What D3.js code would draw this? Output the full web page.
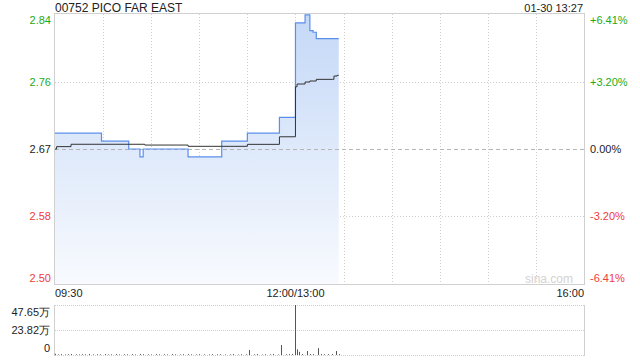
<!DOCTYPE html>
<html><head><meta charset="utf-8">
<script src="https://cdn.jsdelivr.net/npm/d3@7"></script>
<style>body{margin:0;background:#fff;}svg{display:block;font-family:Arial,"Liberation Sans",sans-serif;}</style>
</head><body>
<svg id="c" width="640" height="360"></svg>
<script>
// ---- data ----
const title = "00752 PICO FAR EAST";
const stamp = "01-30 13:27";
const prevClose = 2.67;
const pctTicks = [6.41, 3.20, 0, -3.20, -6.41];
const priceTickLabels = ["2.84", "2.76", "2.67", "2.58", "2.50"];
const pctTickLabels = ["+6.41%", "+3.20%", "0.00%", "-3.20%", "-6.41%"];
const timeLabels = ["09:30", "12:00/13:00", "16:00"];
const timeLabelMinutes = [0, 150, 330];
// trading minutes since 09:30 (lunch removed) where the price changes
const priceMinutes = [0, 29, 46, 53, 55, 83, 104, 120, 140, 150, 156, 159, 161, 163, 177];
const priceValues  = [2.69, 2.68, 2.67, 2.66, 2.67, 2.66, 2.68, 2.69, 2.71, 2.83, 2.84, 2.82, 2.818, 2.81, 2.81];
const avgMinutes = [0, 1, 10, 56, 83, 120, 140, 150, 151, 156, 159, 163, 173, 174, 176, 177];
const avgValues  = [2.670, 2.673, 2.676, 2.675, 2.6734, 2.6759, 2.6855, 2.7489, 2.7524, 2.7549, 2.7562, 2.7583, 2.7583, 2.7625, 2.7634, 2.7634];
// volume (万 shares) by minute
const volMinutes = [0,2,4,6,8,10,13,15,17,19,21,24,26,28,31,33,35,38,40,43,45,48,50,53,55,58,60,63,65,68,70,73,75,78,80,83,85,88,90,93,96,98,101,103,106,109,111,114,116,119,121,124,126,129,131,134,136,139,141,144,146,148,150,151,152,154,157,159,161,164,166,168,170,173,175,177];
const volValues  = [1.2,0.6,0.8,0.5,0.7,0.9,0.6,0.5,0.8,0.6,1.0,0.5,0.7,0.6,0.8,0.5,0.6,0.9,0.5,0.7,0.6,0.8,0.5,1.0,0.7,0.6,0.5,0.8,0.6,0.7,0.5,0.9,0.6,0.5,0.7,0.8,0.6,0.5,0.7,0.6,0.5,0.8,0.6,0.7,0.5,0.6,0.8,0.5,0.7,0.6,4.8,0.6,0.8,0.5,0.7,0.6,0.9,0.5,9.5,0.7,0.8,1.0,47.65,5.4,3.0,0.9,3.8,1.0,0.8,6.5,0.9,0.7,0.8,0.9,3.8,0.8];
const volMax = 47.65;
const volTickLabels = ["47.65万", "23.82万", "0"];

// ---- layout ----
const L = 55, R = 584, T = 14, B = 284;
const VT = 305, VB = 355;
const green = "#1aab1a", red = "#f03a3a", dark = "#222";
const svg = d3.select("#c");

const x = d3.scaleLinear().domain([0, 330]).range([L, R]);
const y = d3.scaleLinear()
  .domain([prevClose * (1 - 0.0641), prevClose * (1 + 0.0641)])
  .range([B, T]);
const yp = d3.scaleLinear().domain([-6.41, 6.41]).range([B, T]);
const yv = d3.scaleLinear().domain([0, volMax]).range([VB, VT]);

const defs = svg.append("defs");
const grad = defs.append("linearGradient").attr("id", "g")
  .attr("gradientUnits", "userSpaceOnUse").attr("x1", 0).attr("y1", T).attr("x2", 0).attr("y2", B);
grad.append("stop").attr("offset", 0).attr("stop-color", "#c4d8f7");
grad.append("stop").attr("offset", 1).attr("stop-color", "#f8fafe");

// grid
const gridMins = d3.range(30, 330, 30);
svg.append("g").selectAll("line").data(gridMins).join("line")
  .attr("x1", d => Math.round(x(d)) + 0.5).attr("x2", d => Math.round(x(d)) + 0.5)
  .attr("y1", T).attr("y2", B)
  .attr("stroke", "#cfcfcf").attr("stroke-dasharray", "1,2");
svg.append("g").selectAll("line").data([3.20, -3.20]).join("line")
  .attr("x1", L).attr("x2", R)
  .attr("y1", d => Math.round(yp(d)) + 0.5).attr("y2", d => Math.round(yp(d)) + 0.5)
  .attr("stroke", "#cfcfcf").attr("stroke-dasharray", "1,2");

// area + lines
const pts = priceMinutes.map((m, i) => [m, priceValues[i]]);
const area = d3.area().x(d => x(d[0])).y0(B).y1(d => y(d[1])).curve(d3.curveStepAfter);
svg.append("path").datum(pts).attr("d", area).attr("fill", "url(#g)");

// zero line
svg.append("line").attr("x1", L).attr("x2", R)
  .attr("y1", Math.round(yp(0)) + 0.5).attr("y2", Math.round(yp(0)) + 0.5)
  .attr("stroke", "#b5b5b5").attr("stroke-dasharray", "4,3");

const line = d3.line().x(d => x(d[0])).y(d => y(d[1])).curve(d3.curveStepAfter);
svg.append("path").datum(pts).attr("d", line)
  .attr("fill", "none").attr("stroke", "#5a8fec").attr("stroke-width", 1.2);
const apts = avgMinutes.map((m, i) => [m, avgValues[i]]);
svg.append("path").datum(apts).attr("d", d3.line().x(d => x(d[0])).y(d => y(d[1])).curve(d3.curveStepAfter))
  .attr("fill", "none").attr("stroke", "#333").attr("stroke-width", 1);

// border
svg.append("rect").attr("x", L - 0.5).attr("y", T - 0.5).attr("width", R - L + 1).attr("height", B - T + 1)
  .attr("fill", "none").attr("stroke", "#d0d0d0");

// watermark
svg.append("text").attr("x", 573).attr("y", 283).attr("text-anchor", "end")
  .attr("font-size", 12).attr("fill", "#d2d2d2").text("sina.com");

// y labels
const lblColor = (i) => i < 2 ? green : (i === 2 ? dark : red);
const lblY = (i) => [20, 82, 149, 216, 278][i];
svg.append("g").selectAll("text").data(priceTickLabels).join("text")
  .attr("x", 51).attr("y", (d, i) => lblY(i)).attr("dy", "0.35em").attr("text-anchor", "end")
  .attr("font-size", 11).attr("fill", (d, i) => lblColor(i)).text(d => d);
svg.append("g").selectAll("text").data(pctTickLabels).join("text")
  .attr("x", 590).attr("y", (d, i) => lblY(i)).attr("dy", "0.35em").attr("text-anchor", "start")
  .attr("font-size", 11).attr("fill", (d, i) => lblColor(i)).text(d => d);

// title / stamp
svg.append("text").attr("x", 55).attr("y", 11.5).attr("font-size", 12).attr("fill", dark).text(title);
svg.append("text").attr("x", 583).attr("y", 11.5).attr("text-anchor", "end").attr("font-size", 11).attr("fill", dark).text(stamp);

// time labels
svg.append("g").selectAll("text").data(timeLabels).join("text")
  .attr("x", (d, i) => x(timeLabelMinutes[i]))
  .attr("y", 297)
  .attr("text-anchor", (d, i) => i === 0 ? "start" : (i === 1 ? "middle" : "end"))
  .attr("font-size", 11).attr("fill", dark).text(d => d);

// volume panel
svg.append("g").selectAll("line").data([volMax, volMax / 2, 0]).join("line")
  .attr("x1", L).attr("x2", R)
  .attr("y1", d => Math.round(yv(d)) + 0.5).attr("y2", d => Math.round(yv(d)) + 0.5)
  .attr("stroke", "#cfcfcf").attr("stroke-dasharray", "1,1");
svg.append("g").selectAll("line").data([L - 0.5, R + 0.5]).join("line")
  .attr("x1", d => d).attr("x2", d => d).attr("y1", VT).attr("y2", VB + 1)
  .attr("stroke", "#d0d0d0");
svg.append("g").selectAll("rect").data(volMinutes).join("rect")
  .attr("x", d => Math.round(x(d)))
  .attr("width", 1)
  .attr("y", (d, i) => yv(volValues[i]))
  .attr("height", (d, i) => VB - yv(volValues[i]))
  .attr("fill", "#555");
svg.append("g").selectAll("text").data(volTickLabels).join("text")
  .attr("x", 50).attr("y", (d, i) => [312, 330, 348][i]).attr("dy", "0.35em").attr("text-anchor", "end")
  .attr("font-size", 11).attr("fill", dark).text(d => d);
</script>
</body></html>
